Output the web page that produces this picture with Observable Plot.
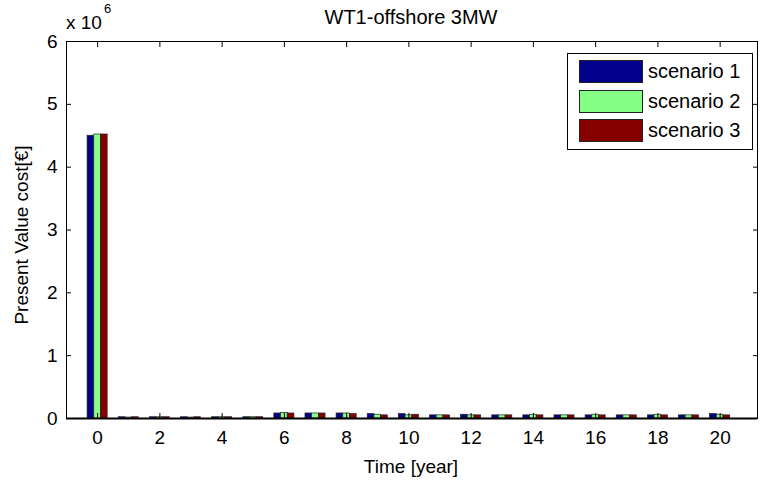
<!DOCTYPE html>
<html>
<head>
<meta charset="utf-8">
<script src="https://cdn.jsdelivr.net/npm/d3@7"></script>
<script src="https://cdn.jsdelivr.net/npm/@observablehq/plot@0.6"></script>
<style>
  html, body { margin: 0; padding: 0; background: #fff; }
  #wrap { position: relative; width: 770px; height: 481px; font-family: "Liberation Sans", Arial, sans-serif; color: #000; }
  .t { position: absolute; white-space: nowrap; line-height: 1; }
  #legend { position: absolute; left: 567px; top: 53px; width: 186px; height: 97px; border: 1px solid #000; background: #fff; box-sizing: border-box; }
  .row { position: absolute; left: 11px; height: 23px; display: flex; align-items: center; }
  .sw { width: 64px; height: 23px; border: 1px solid #222; box-sizing: border-box; }
  .lab { margin-left: 5px; font-size: 20px; }
</style>
</head>
<body>
<div id="wrap"></div>
<script>
const title = "WT1-offshore 3MW";
const xLabel = "Time [year]";
const yLabel = "Present Value cost[€]";
const years = [0,1,2,3,4,5,6,7,8,9,10,11,12,13,14,15,16,17,18,19,20];
const seriesNames = ["scenario 1", "scenario 2", "scenario 3"];
const seriesColors = ["#00008c", "#86ff86", "#860000"];
// values in units of 1e6 €
const scenario1 = [4.50,0.02,0.02,0.02,0.02,0.02,0.08,0.08,0.08,0.07,0.07,0.05,0.06,0.05,0.05,0.05,0.05,0.05,0.05,0.05,0.07];
const scenario2 = [4.52,0.015,0.02,0.015,0.02,0.02,0.09,0.08,0.08,0.06,0.05,0.05,0.05,0.05,0.06,0.05,0.06,0.05,0.06,0.05,0.06];
const scenario3 = [4.52,0.02,0.02,0.02,0.02,0.02,0.08,0.08,0.07,0.05,0.06,0.05,0.05,0.05,0.05,0.05,0.05,0.05,0.05,0.05,0.05];
const xTicks = [0,2,4,6,8,10,12,14,16,18,20];
const yTicks = [0,1,2,3,4,5,6];

const allSeries = [scenario1, scenario2, scenario3];
const data = [];
allSeries.forEach((vals, s) => vals.forEach((v, i) => data.push({year: years[i], s, value: v})));

const barW = 0.215;
const offs = [-barW, 0, barW];

const chart = Plot.plot({
  width: 770,
  height: 481,
  marginLeft: 66,
  marginRight: 13,
  marginTop: 41,
  marginBottom: 63,
  style: {fontFamily: "Liberation Sans, Arial, sans-serif", fontSize: "19px", color: "#000", background: "#fff"},
  x: {domain: [-1.0, 21.2], axis: null},
  y: {domain: [0, 6], axis: null},
  marks: [
    Plot.rectY(data, {
      x1: d => d.year + offs[d.s] - barW / 2,
      x2: d => d.year + offs[d.s] + barW / 2,
      y1: 0,
      y2: "value",
      fill: d => seriesColors[d.s],
      stroke: "#222",
      strokeWidth: 0.7
    }),
    Plot.frame({stroke: "#000", strokeWidth: 1}),
    Plot.ruleY([0], {stroke: "#000", strokeWidth: 2}),
    Plot.axisX(xTicks, {anchor: "bottom", tickSize: -5, tickFormat: () => "", label: null, stroke: "#000"}),
    Plot.axisX(xTicks, {anchor: "top", tickSize: -5, tickFormat: () => "", label: null, stroke: "#000"}),
    Plot.axisY(yTicks, {anchor: "left", tickSize: -5, tickFormat: () => "", label: null, stroke: "#000"}),
    Plot.axisY(yTicks, {anchor: "right", tickSize: -5, tickFormat: () => "", label: null, stroke: "#000"}),
    Plot.axisX(xTicks, {anchor: "bottom", tickSize: 0, tickPadding: 12, fontSize: 19, label: null, tickFormat: d => String(d)}),
    Plot.axisY(yTicks, {anchor: "left", tickSize: 0, tickPadding: 9, fontSize: 19, label: null, tickFormat: d => String(d)})
  ]
});

const wrap = document.getElementById("wrap");
wrap.appendChild(chart);

function addText(txt, left, top, size, extra) {
  const el = document.createElement("div");
  el.className = "t";
  el.textContent = txt;
  el.style.left = left + "px";
  el.style.top = top + "px";
  el.style.fontSize = size + "px";
  if (extra) Object.assign(el.style, extra);
  wrap.appendChild(el);
  return el;
}
addText(title, 411, 7, 20, {transform: "translateX(-50%)"});
addText(xLabel, 411, 457, 19, {transform: "translateX(-50%)"});
addText(yLabel, 21, 235, 19, {transform: "translate(-50%,-50%) rotate(-90deg)"});
addText("x 10", 66, 13, 19);
addText("6", 104, 2, 13);

const leg = document.createElement("div");
leg.id = "legend";
seriesNames.forEach((n, i) => {
  const r = document.createElement("div");
  r.className = "row";
  r.style.top = (6 + i * 29.5) + "px";
  const sw = document.createElement("div");
  sw.className = "sw";
  sw.style.background = seriesColors[i];
  const lb = document.createElement("span");
  lb.className = "lab";
  lb.textContent = n;
  r.appendChild(sw); r.appendChild(lb);
  leg.appendChild(r);
});
wrap.appendChild(leg);
</script>
</body>
</html>
